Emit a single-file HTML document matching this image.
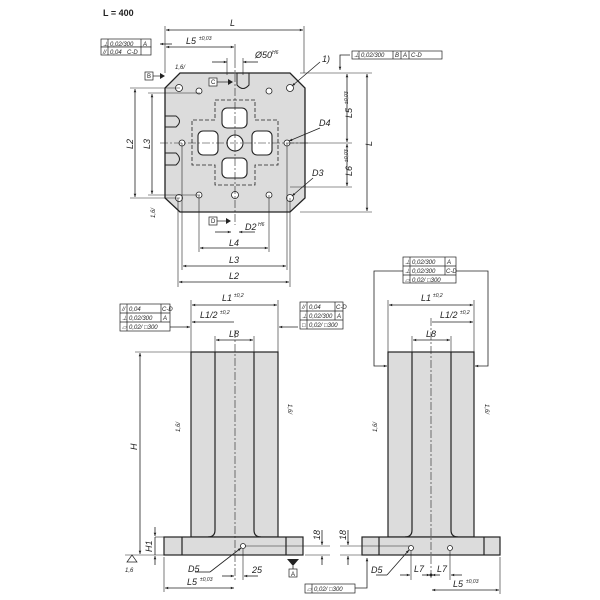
<!DOCTYPE html>
<html><head><meta charset="utf-8"><style>
html,body{margin:0;padding:0;background:#fff;width:600px;height:600px;overflow:hidden}
svg{display:block}
text{font-family:"Liberation Sans",sans-serif;font-style:italic;fill:#222}
.t{font-size:9px}
.s{font-size:5px}
.f{font-size:6px;font-style:italic}
</style></head><body>
<svg width="600" height="600" viewBox="0 0 600 600" xmlns="http://www.w3.org/2000/svg">
<defs>
<marker id="a" viewBox="0 0 10 10" refX="10" refY="5" markerWidth="6" markerHeight="4" orient="auto-start-reverse"><path d="M0,1 L10,5 L0,9z" fill="#222"/></marker>
</defs>
<g stroke="#222" fill="none" stroke-width="0.8">
<!-- ===== TOP VIEW ===== -->
<path d="M180,73 L290,73 L305,88 L305,198 L290,212 L180,212 L165,198 L165,88 Z" fill="#dcdcdc" stroke-width="1.3"/>
<!-- dashed cross -->
<path d="M215,100 H255 V120 H278 V165 H255 V185 H215 V165 H192 V120 H215 Z" stroke-dasharray="4,2"/>
<!-- pockets -->
<rect x="222" y="108" width="25" height="20" rx="5" fill="#fff" stroke-width="1.1"/>
<rect x="222" y="158" width="25" height="20" rx="5" fill="#fff" stroke-width="1.1"/>
<rect x="198" y="131" width="20" height="24" rx="5" fill="#fff" stroke-width="1.1"/>
<rect x="252" y="131" width="20" height="24" rx="5" fill="#fff" stroke-width="1.1"/>
<circle cx="235" cy="143" r="8" fill="#fff" stroke-width="1.1"/>
<!-- holes -->
<g fill="#fff">
<circle cx="179" cy="88" r="3.5"/><circle cx="290" cy="88" r="3.5"/><circle cx="179" cy="198" r="3.5"/><circle cx="290" cy="198" r="3.5"/>
<circle cx="199" cy="91" r="3"/><circle cx="269" cy="91" r="3"/><circle cx="199" cy="195" r="3"/><circle cx="269" cy="195" r="3"/>
<circle cx="182" cy="143" r="3"/><circle cx="287" cy="143" r="3"/>
<circle cx="235" cy="195" r="3.5"/>
</g>
<!-- threaded slots -->
<path d="M237,73 V85 Q243,92 249,85 V73" stroke-width="1"/>
<path d="M165,116 H176 Q183,121 176,127 H165" stroke-width="1"/>
<path d="M165,153 H176 Q183,159 176,165 H165" stroke-width="1"/>
<!-- centerlines -->
<g stroke-dasharray="8,2,2,2" stroke-width="0.6">
<line x1="235" y1="60" x2="235" y2="225"/><line x1="160" y1="143" x2="310" y2="143"/>
</g>
<!-- dims top -->
<line x1="165" y1="26" x2="165" y2="73" stroke-width="0.6"/><line x1="304" y1="26" x2="304" y2="73" stroke-width="0.6"/>
<line x1="166" y1="30" x2="303" y2="30" marker-start="url(#a)" marker-end="url(#a)"/>
<line x1="166" y1="47" x2="234" y2="47" marker-start="url(#a)" marker-end="url(#a)"/>
<line x1="235" y1="44" x2="235" y2="60" stroke-width="0.6"/>
<line x1="212" y1="62" x2="227" y2="62" marker-end="url(#a)"/><line x1="258" y1="62" x2="243" y2="62" marker-end="url(#a)"/>
<line x1="227" y1="58" x2="227" y2="75" stroke-width="0.6"/><line x1="243" y1="58" x2="243" y2="75" stroke-width="0.6"/>
<!-- right dims -->
<line x1="300" y1="73" x2="372" y2="73" stroke-width="0.6"/><line x1="300" y1="212" x2="372" y2="212" stroke-width="0.6"/>
<line x1="367" y1="74" x2="367" y2="211" marker-start="url(#a)" marker-end="url(#a)"/>
<line x1="347" y1="74" x2="347" y2="142" marker-start="url(#a)" marker-end="url(#a)"/>
<line x1="347" y1="144" x2="347" y2="186" marker-start="url(#a)" marker-end="url(#a)"/>
<line x1="290" y1="143" x2="352" y2="143" stroke-width="0.6"/><line x1="290" y1="187" x2="352" y2="187" stroke-width="0.6"/>
<!-- left dims -->
<line x1="130" y1="88" x2="180" y2="88" stroke-width="0.6"/><line x1="130" y1="198" x2="180" y2="198" stroke-width="0.6"/>
<line x1="148" y1="93" x2="200" y2="93" stroke-width="0.6"/><line x1="148" y1="195" x2="200" y2="195" stroke-width="0.6"/>
<line x1="135" y1="89" x2="135" y2="197" marker-start="url(#a)" marker-end="url(#a)"/>
<line x1="152" y1="94" x2="152" y2="194" marker-start="url(#a)" marker-end="url(#a)"/>
<!-- bottom dims -->
<line x1="199" y1="195" x2="199" y2="252" stroke-width="0.6"/><line x1="269" y1="195" x2="269" y2="252" stroke-width="0.6"/>
<line x1="182" y1="143" x2="182" y2="270" stroke-width="0.6"/><line x1="287" y1="143" x2="287" y2="270" stroke-width="0.6"/>
<line x1="178" y1="198" x2="178" y2="287" stroke-width="0.6"/><line x1="290" y1="198" x2="290" y2="287" stroke-width="0.6"/>
<line x1="200" y1="248" x2="268" y2="248" marker-start="url(#a)" marker-end="url(#a)"/>
<line x1="183" y1="266" x2="286" y2="266" marker-start="url(#a)" marker-end="url(#a)"/>
<line x1="179" y1="282" x2="289" y2="282" marker-start="url(#a)" marker-end="url(#a)"/>
<line x1="215" y1="232" x2="231" y2="232" marker-end="url(#a)"/><line x1="255" y1="232" x2="239" y2="232" marker-end="url(#a)"/>
<!-- leaders -->
<line x1="320" y1="62" x2="292" y2="86" marker-end="url(#a)"/>
<line x1="320" y1="128" x2="289" y2="141" marker-end="url(#a)"/>
<line x1="313" y1="178" x2="292" y2="196" marker-end="url(#a)"/>
<line x1="172" y1="44" x2="160" y2="44" marker-end="url(#a)"/>
<!-- right frame leader -->
<path d="M350,55 H340 V70" marker-end="url(#a)"/>
</g>
<!-- datum marks -->
<g fill="#222">
<path d="M160,73 L165,76 L160,79z"/><path d="M228,79 L233,82 L228,85z"/><path d="M226,218 L231,221 L226,224z"/>
<path d="M287,559 L299,559 L293,566z"/>
</g>
<g stroke="#222" fill="#fff" stroke-width="0.7">
<rect x="145" y="72" width="8" height="8"/><rect x="209" y="78" width="8" height="8"/><rect x="209" y="217" width="8" height="8"/>
<line x1="153" y1="76" x2="160" y2="76"/><line x1="217" y1="82" x2="228" y2="82"/><line x1="217" y1="221" x2="226" y2="221"/>
<!-- tolerance frames top -->
<rect x="101" y="39" width="50" height="8"/><rect x="101" y="47" width="50" height="8"/>
<line x1="108" y1="39" x2="108" y2="55"/><line x1="141" y1="39" x2="141" y2="55"/>
<rect x="352" y="51" width="90" height="8"/>
<line x1="359" y1="51" x2="359" y2="59"/><line x1="393" y1="51" x2="393" y2="59"/><line x1="401" y1="51" x2="401" y2="59"/><line x1="409" y1="51" x2="409" y2="59"/>
</g>
<g class="t">
<text x="103" y="16" style="font-style:normal;font-weight:bold;font-size:9px">L = 400</text>
<text x="230" y="26">L</text>
<text x="186" y="44">L5</text><text x="199" y="40" class="s">±0,03</text>
<text x="255" y="58">Ø50</text><text x="272" y="54" class="s">H6</text>
<text x="322" y="62">1)</text>
<text x="319" y="126">D4</text>
<text x="312" y="176">D3</text>
<text x="245" y="230">D2</text><text x="258" y="226" class="s">H6</text>
<text x="229" y="246">L4</text><text x="229" y="263">L3</text><text x="229" y="279">L2</text>
<text x="175" y="69" class="s" style="font-size:6px">1,6/</text>
<text class="f" x="103" y="46">⊥</text><text class="f" x="110" y="46">0,02/300</text><text class="f" x="143" y="46">A</text>
<text class="f" x="103" y="54">//</text><text class="f" x="110" y="54">0,04</text><text class="f" x="127" y="54">C-D</text>
<text class="f" x="354" y="57">⊥</text><text class="f" x="361" y="57">0,02/300</text><text class="f" x="395" y="57">B</text><text class="f" x="403" y="57">A</text><text class="f" x="411" y="57">C-D</text>
<text class="f" x="147" y="78" style="font-style:normal">B</text><text class="f" x="211" y="84" style="font-style:normal">C</text><text class="f" x="211" y="223" style="font-style:normal">D</text>
</g>
<g class="t">
<text transform="translate(372,146) rotate(-90)">L</text>
<text transform="translate(352,118) rotate(-90)">L5</text><text class="s" transform="translate(348,104) rotate(-90)">±0,03</text>
<text transform="translate(352,176) rotate(-90)">L6</text><text class="s" transform="translate(348,162) rotate(-90)">±0,03</text>
<text transform="translate(133,149) rotate(-90)">L2</text>
<text transform="translate(150,149) rotate(-90)">L3</text>
<text transform="translate(155,218) rotate(-90)" style="font-size:6px">1,6/</text>
</g>

<!-- ===== FRONT VIEW LEFT ===== -->
<g stroke="#222" stroke-width="1.2">
<rect x="191" y="352" width="87" height="185" fill="#dcdcdc"/>
<path d="M215,352 V530 Q215,537 208,537 M254,352 V530 Q254,537 261,537" fill="none"/>
<rect x="164" y="537" width="139" height="18" fill="#dcdcdc"/>
<line x1="182" y1="537" x2="182" y2="555"/><line x1="286" y1="537" x2="286" y2="555"/>
<circle cx="243" cy="546" r="2.5" fill="#fff" stroke-width="0.8"/>
</g>
<g stroke="#222" fill="none" stroke-width="0.8">
<line x1="235" y1="330" x2="235" y2="580" stroke-dasharray="8,2,2,2" stroke-width="0.6"/>
<line x1="191" y1="300" x2="191" y2="352" stroke-width="0.6"/><line x1="278" y1="300" x2="278" y2="352" stroke-width="0.6"/>
<line x1="192" y1="305" x2="277" y2="305" marker-start="url(#a)" marker-end="url(#a)"/>
<line x1="192" y1="322" x2="234" y2="322" marker-start="url(#a)"/>
<line x1="215" y1="336" x2="215" y2="352" stroke-width="0.6"/><line x1="254" y1="336" x2="254" y2="352" stroke-width="0.6"/>
<line x1="216" y1="340" x2="253" y2="340" marker-start="url(#a)" marker-end="url(#a)"/>
<line x1="170" y1="327" x2="190" y2="327" marker-end="url(#a)"/>
<line x1="298" y1="327" x2="279" y2="327" marker-end="url(#a)"/>
<line x1="135" y1="352" x2="191" y2="352" stroke-width="0.6"/>
<line x1="140" y1="353" x2="140" y2="554" marker-start="url(#a)" marker-end="url(#a)"/>
<line x1="125" y1="555" x2="164" y2="555" stroke-width="0.6"/>
<line x1="155" y1="537" x2="164" y2="537" stroke-width="0.6"/>
<line x1="155" y1="527" x2="155" y2="536" marker-end="url(#a)"/><line x1="155" y1="565" x2="155" y2="556" marker-end="url(#a)"/>
<line x1="155" y1="537" x2="155" y2="555"/>
<line x1="164" y1="557" x2="164" y2="592" stroke-width="0.6"/>
<line x1="165" y1="588" x2="234" y2="588" marker-start="url(#a)" marker-end="url(#a)"/>
<line x1="243" y1="549" x2="243" y2="580" stroke-width="0.6"/>
<line x1="222" y1="576" x2="234" y2="576" marker-end="url(#a)"/><line x1="258" y1="576" x2="244" y2="576" marker-end="url(#a)"/>
<line x1="195" y1="572" x2="210" y2="572"/><line x1="210" y1="572" x2="241" y2="548" marker-end="url(#a)"/>
<line x1="245" y1="546" x2="330" y2="546" stroke-width="0.6"/><line x1="305" y1="555" x2="330" y2="555" stroke-width="0.6"/>
<line x1="322" y1="530" x2="322" y2="545" marker-end="url(#a)"/><line x1="322" y1="565" x2="322" y2="556" marker-end="url(#a)"/>
<line x1="293" y1="566" x2="293" y2="569"/>
</g>
<g stroke="#222" fill="#fff" stroke-width="0.7">
<rect x="120" y="304" width="50" height="27"/><line x1="120" y1="313" x2="170" y2="313"/><line x1="120" y1="322" x2="170" y2="322"/>
<line x1="127" y1="304" x2="127" y2="331"/><line x1="161" y1="304" x2="161" y2="322"/>
<rect x="300" y="302" width="43" height="27"/><line x1="300" y1="311" x2="343" y2="311"/><line x1="300" y1="320" x2="343" y2="320"/>
<line x1="307" y1="302" x2="307" y2="329"/><line x1="335" y1="302" x2="335" y2="320"/>
<rect x="289" y="569" width="8" height="8"/>
</g>
<g class="t">
<text x="222" y="301">L1</text><text x="234" y="297" class="s">±0,2</text>
<text x="200" y="318">L1/2</text><text x="220" y="314" class="s">±0,2</text>
<text x="229" y="337">L8</text>
<text x="188" y="572">D5</text><text x="252" y="573">25</text>
<text x="187" y="585">L5</text><text x="200" y="581" class="s">±0,03</text>
<text class="f" x="122" y="311">//</text><text class="f" x="129" y="311">0,04</text><text class="f" x="162" y="311">C-D</text>
<text class="f" x="122" y="320">⊥</text><text class="f" x="129" y="320">0,02/300</text><text class="f" x="163" y="320">A</text>
<text class="f" x="122" y="329">▱</text><text class="f" x="129" y="329">0,02/ □300</text>
<text class="f" x="302" y="309">//</text><text class="f" x="309" y="309">0,04</text><text class="f" x="336" y="309">C-D</text>
<text class="f" x="302" y="318">⊥</text><text class="f" x="309" y="318">0,02/300</text><text class="f" x="337" y="318">A</text>
<text class="f" x="302" y="327">□</text><text class="f" x="309" y="327">0,02/ □300</text>
<text class="f" x="291" y="576" style="font-style:normal">A</text>
<text transform="translate(137,450) rotate(-90)">H</text>
<text transform="translate(152,552) rotate(-90)">H1</text>
<text transform="translate(320,540) rotate(-90)">18</text>
<text transform="translate(180,432) rotate(-90)" style="font-size:6px">1,6/</text>
<text transform="translate(288,404) rotate(90)" style="font-size:6px">1,6/</text>
<text x="125" y="572" style="font-size:6px">1,6</text>
</g>
<path d="M127,562 L132,555 L137,562z" fill="none" stroke="#222" stroke-width="0.7"/>

<!-- ===== RIGHT VIEW ===== -->
<g stroke="#222" stroke-width="1.2">
<rect x="388" y="352" width="86" height="185" fill="#dcdcdc"/>
<path d="M412,352 V530 Q412,537 405,537 M451,352 V530 Q451,537 458,537" fill="none"/>
<rect x="362" y="537" width="138" height="18" fill="#dcdcdc"/>
<line x1="379" y1="537" x2="379" y2="555"/><line x1="484" y1="537" x2="484" y2="555"/>
<circle cx="411" cy="548" r="2.5" fill="#fff" stroke-width="0.8"/><circle cx="450" cy="548" r="2.5" fill="#fff" stroke-width="0.8"/>
</g>
<g stroke="#222" fill="none" stroke-width="0.8">
<line x1="431" y1="318" x2="431" y2="580" stroke-dasharray="8,2,2,2" stroke-width="0.6"/>
<line x1="388" y1="300" x2="388" y2="352" stroke-width="0.6"/><line x1="474" y1="300" x2="474" y2="352" stroke-width="0.6"/>
<line x1="389" y1="305" x2="473" y2="305" marker-start="url(#a)" marker-end="url(#a)"/>
<line x1="432" y1="322" x2="473" y2="322" marker-end="url(#a)"/>
<line x1="412" y1="336" x2="412" y2="352" stroke-width="0.6"/><line x1="451" y1="336" x2="451" y2="352" stroke-width="0.6"/>
<line x1="413" y1="340" x2="450" y2="340" marker-start="url(#a)" marker-end="url(#a)"/>
<path d="M403,271 H374 V366 H387" marker-end="url(#a)"/>
<path d="M456,271 H488 V366 H475" marker-end="url(#a)"/>
<line x1="340" y1="546" x2="410" y2="546" stroke-width="0.6"/><line x1="340" y1="555" x2="362" y2="555" stroke-width="0.6"/>
<line x1="348" y1="530" x2="348" y2="545" marker-end="url(#a)"/><line x1="348" y1="565" x2="348" y2="556" marker-end="url(#a)"/>
<path d="M355,588 H367 V558" marker-end="url(#a)"/>
<line x1="411" y1="551" x2="411" y2="580" stroke-width="0.6"/><line x1="450" y1="551" x2="450" y2="580" stroke-width="0.6"/>
<line x1="400" y1="575" x2="410" y2="575" marker-end="url(#a)"/><line x1="422" y1="575" x2="430" y2="575" marker-end="url(#a)"/>
<line x1="440" y1="575" x2="432" y2="575" marker-end="url(#a)"/><line x1="462" y1="575" x2="451" y2="575" marker-end="url(#a)"/>
<line x1="376" y1="575" x2="387" y2="575"/><line x1="387" y1="575" x2="409" y2="550" marker-end="url(#a)"/>
<line x1="500" y1="557" x2="500" y2="594" stroke-width="0.6"/>
<line x1="432" y1="590" x2="499" y2="590" marker-start="url(#a)" marker-end="url(#a)"/>
</g>
<circle cx="431" cy="575" r="1.5" fill="#222"/>
<g stroke="#222" fill="#fff" stroke-width="0.7">
<rect x="403" y="257" width="53" height="26"/><line x1="403" y1="266" x2="456" y2="266"/><line x1="403" y1="275" x2="456" y2="275"/>
<line x1="410" y1="257" x2="410" y2="283"/><line x1="445" y1="257" x2="445" y2="275"/>
<rect x="305" y="584" width="50" height="9"/><line x1="312" y1="584" x2="312" y2="593"/>
</g>
<g class="t">
<text x="421" y="301">L1</text><text x="433" y="297" class="s">±0,2</text>
<text x="440" y="318">L1/2</text><text x="460" y="314" class="s">±0,2</text>
<text x="426" y="337">L8</text>
<text x="371" y="573">D5</text>
<text x="414" y="572">L7</text><text x="437" y="572">L7</text>
<text x="453" y="587">L5</text><text x="466" y="583" class="s">±0,03</text>
<text class="f" x="405" y="264">⊥</text><text class="f" x="412" y="264">0,02/300</text><text class="f" x="447" y="264">A</text>
<text class="f" x="405" y="273">⊥</text><text class="f" x="412" y="273">0,02/300</text><text class="f" x="446" y="273">C-D</text>
<text class="f" x="405" y="282">▱</text><text class="f" x="412" y="282">0,02/ □300</text>
<text class="f" x="307" y="591">▱</text><text class="f" x="314" y="591">0,02/ □300</text>
<text transform="translate(346,540) rotate(-90)">18</text>
<text transform="translate(377,432) rotate(-90)" style="font-size:6px">1,6/</text>
<text transform="translate(485,404) rotate(90)" style="font-size:6px">1,6/</text>
</g>
</svg>
</body></html>
